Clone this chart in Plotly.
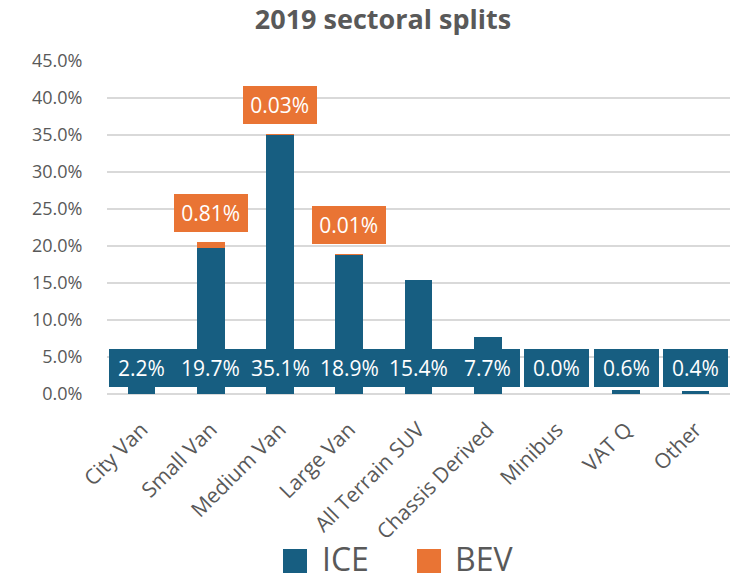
import plotly.graph_objects as go

# Sector shares of 2019 registrations (percent of total)
categories = ["City Van", "Small Van", "Medium Van", "Large Van", "All Terrain SUV",
              "Chassis Derived", "Minibus", "VAT Q", "Other"]
ice_share = [2.2, 19.7, 35.1, 18.9, 15.4, 7.7, 0.0, 0.6, 0.4]
bev_share = [0.0, 0.81, 0.03, 0.01, 0.0, 0.0, 0.0, 0.0, 0.0]
y_ticks = [0, 5, 10, 15, 20, 25, 30, 35, 40, 45]
y_tick_labels = [f"{t:.1f}%" for t in y_ticks]

ICE_COLOR = "#175E81"
BEV_COLOR = "#E97434"
TEXT_GREY = "#595959"
FONT = "Open Sans"

fig = go.Figure()
fig.add_trace(go.Bar(x=categories, y=ice_share, name="ICE", marker_color=ICE_COLOR,
                     marker_line_width=0))
fig.add_trace(go.Bar(x=categories, y=bev_share, name="BEV", marker_color=BEV_COLOR,
                     marker_line_width=0))

annotations = []
# ICE labels sit in a band near the base of each column
for cat, v in zip(categories, ice_share):
    txt = f"{v:.1f}%"
    annotations.append(dict(
        x=cat, y=3.5, xref="x", yref="y", text=txt, showarrow=False,
        font=dict(family=FONT, size=21, color="white"),
        bgcolor=ICE_COLOR, borderpad=5, borderwidth=0, width=12 * len(txt) + 7,
        xanchor="center", yanchor="middle"))
# BEV labels float above the stacked total
for cat, ice, bev in zip(categories, ice_share, bev_share):
    if bev > 0:
        txt = f"{bev:.2f}%"
        annotations.append(dict(
            x=cat, y=ice + bev, xref="x", yref="y", text=txt, showarrow=False,
            font=dict(family=FONT, size=21, color="white"),
            bgcolor=BEV_COLOR, borderpad=5, borderwidth=0, width=11.5 * len(txt) + 6,
            xanchor="center", yanchor="bottom", yshift=10))

# Legend drawn as large swatches with text
W, H = 740, 579
L, R, T, B = 107, 10, 61, 185
PW, PH = W - L - R, H - T - B


def px_x(px):
    return (px - L) / PW


def px_y(py):
    return (H - B - py) / PH


legend_items = [("ICE", ICE_COLOR, 283, 321), ("BEV", BEV_COLOR, 417, 454)]
shapes = []
for name, color, sx, tx in legend_items:
    shapes.append(dict(type="rect", xref="paper", yref="paper",
                       x0=px_x(sx), x1=px_x(sx + 24),
                       y0=px_y(573), y1=px_y(549),
                       fillcolor=color, line_width=0))
    annotations.append(dict(x=px_x(tx), y=px_y(558), xref="paper", yref="paper",
                            text=name, showarrow=False, borderpad=0, height=36,
                            xanchor="left", yanchor="middle", valign="middle",
                            font=dict(family=FONT, size=32, color=TEXT_GREY)))

fig.update_layout(
    barmode="stack",
    bargap=0.6,
    width=W, height=H,
    margin=dict(l=L, r=R, t=T, b=B),
    paper_bgcolor="white", plot_bgcolor="white",
    showlegend=False,
    title=dict(text="<b>2019 sectoral splits</b>", x=383 / W, xanchor="center",
               y=1 - 20 / H, yanchor="middle",
               font=dict(family=FONT, size=27, color=TEXT_GREY)),
    annotations=annotations,
    shapes=shapes,
    font=dict(family=FONT, color=TEXT_GREY),
)
fig.update_yaxes(range=[0, 45], tickvals=y_ticks, ticktext=y_tick_labels,
                 showgrid=True, gridcolor="#D9D9D9", gridwidth=1.5,
                 zeroline=True, zerolinecolor="#D9D9D9", zerolinewidth=1.5,
                 ticks="outside", ticklen=20, tickcolor="rgba(0,0,0,0)",
                 tickfont=dict(family=FONT, size=18, color=TEXT_GREY))
fig.update_xaxes(tickangle=-45, ticks="outside", ticklen=14, tickcolor="rgba(0,0,0,0)",
                 tickfont=dict(family=FONT, size=21, color=TEXT_GREY),
                 showline=False)

fig.write_html("out.html")
